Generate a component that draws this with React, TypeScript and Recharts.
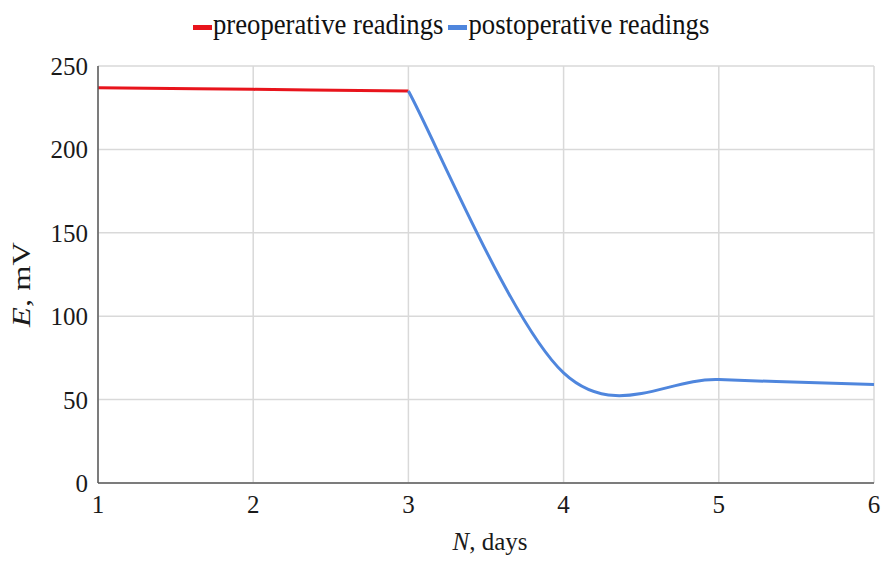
import React from "react";
import { LineChart, Line, XAxis, YAxis, CartesianGrid } from "recharts";

// ── Data ──────────────────────────────────────────────────────
const days = [1, 2, 3, 4, 5, 6];
const preop = [237, 236, 235, null, null, null];
const postop = [null, null, 235, 66, 62, 59];
const yTicks = [0, 50, 100, 150, 200, 250];

const data = days.map((d, i) => ({ day: d, pre: preop[i], post: postop[i] }));

const RED = "#e8141c";
const BLUE = "#4f86dd";
const FONT = "Liberation Serif";
const txt: React.CSSProperties = { fontFamily: FONT, fontSize: 25, fill: "#1a1a1a" };

// Excel-like smoothed line (Catmull-Rom through each point, as Bezier)
const smoothCurve = (context: any) => {
  let pts: number[][] = [];
  return {
    areaStart() {},
    areaEnd() {},
    lineStart() {
      pts = [];
    },
    point(x: number, y: number) {
      pts.push([+x, +y]);
    },
    lineEnd() {
      const n = pts.length;
      if (!n) return;
      context.moveTo(pts[0][0], pts[0][1]);
      for (let i = 0; i < n - 1; i++) {
        const p0 = pts[Math.max(i - 1, 0)];
        const p1 = pts[i];
        const p2 = pts[i + 1];
        const p3 = pts[Math.min(i + 2, n - 1)];
        context.bezierCurveTo(
          p1[0] + (p2[0] - p0[0]) / 6, p1[1] + (p2[1] - p0[1]) / 6,
          p2[0] - (p3[0] - p1[0]) / 6, p2[1] - (p3[1] - p1[1]) / 6,
          p2[0], p2[1],
        );
      }
    },
  };
};

const XTick = (props: any) => (
  <text x={props.x} y={props.y} dy={24} textAnchor="middle" style={txt}>
    {props.payload.value}
  </text>
);

const YTick = (props: any) => (
  <text x={props.x} y={props.y} dy={9} textAnchor="end" style={txt}>
    {props.payload.value}
  </text>
);

const LegendItem: React.FC<{ color: string; label: string }> = ({ color, label }) => (
  <span style={{ display: "flex", alignItems: "center", gap: 1, fontFamily: FONT, fontSize: 26.7, lineHeight: "26px", color: "#111" }}>
    <span style={{ width: 19, height: 5, background: color, display: "inline-block", transform: "translateY(3px)" }} />
    <span style={{ display: "inline-block", transform: "scaleY(1.12)" }}>{label}</span>
  </span>
);

const YTitle = (props: any) => {
  const vb = props.viewBox || {};
  const cx = 30;
  const cy = vb.y + vb.height / 2 + 10;
  return (
    <text x={0} y={0} transform={`translate(${cx} ${cy}) rotate(-90) scale(1.3 1)`} textAnchor="middle" style={txt}>
      <tspan fontStyle="italic">E</tspan>, mV
    </text>
  );
};

const XTitle = (props: any) => {
  const vb = props.viewBox || {};
  const cx = vb.x + vb.width / 2 + 4;
  return (
    <text x={cx} y={550} textAnchor="middle" style={txt}>
      <tspan fontStyle="italic">N</tspan>, days
    </text>
  );
};

export default function App() {
  return (
    <div style={{ position: "absolute", left: 0, top: 0, width: 882, height: 566, background: "#fff" }}>
      <div style={{ position: "absolute", top: 11, left: 193, display: "flex", gap: 5 }}>
        <LegendItem color={RED} label="preoperative readings" />
        <LegendItem color={BLUE} label="postoperative readings" />
      </div>
      <LineChart
        width={882}
        height={566}
        data={data}
        margin={{ top: 66, right: 8, bottom: 0, left: 0 }}
      >
        <CartesianGrid stroke="#d9d9d9" strokeWidth={1.5} />
        <XAxis
          dataKey="day" type="number" domain={[1, 6]} ticks={days} height={83}
          tick={<XTick />}
          axisLine={{ stroke: "#5a5a5a", strokeWidth: 1.5 }}
          tickLine={false} tickSize={0} tickMargin={6}
          label={<XTitle />}
        />
        <YAxis
          domain={[0, 250]} ticks={yTicks} width={98}
          tick={<YTick />}
          axisLine={{ stroke: "#5a5a5a", strokeWidth: 1.5 }}
          tickLine={false} tickSize={0} tickMargin={10}
          label={<YTitle />}
        />
        <Line
          dataKey="pre" stroke={RED} strokeWidth={3} dot={false}
          type={smoothCurve as any} isAnimationActive={false}
        />
        <Line
          dataKey="post" stroke={BLUE} strokeWidth={3} dot={false}
          type={smoothCurve as any} isAnimationActive={false}
        />
      </LineChart>
    </div>
  );
}
